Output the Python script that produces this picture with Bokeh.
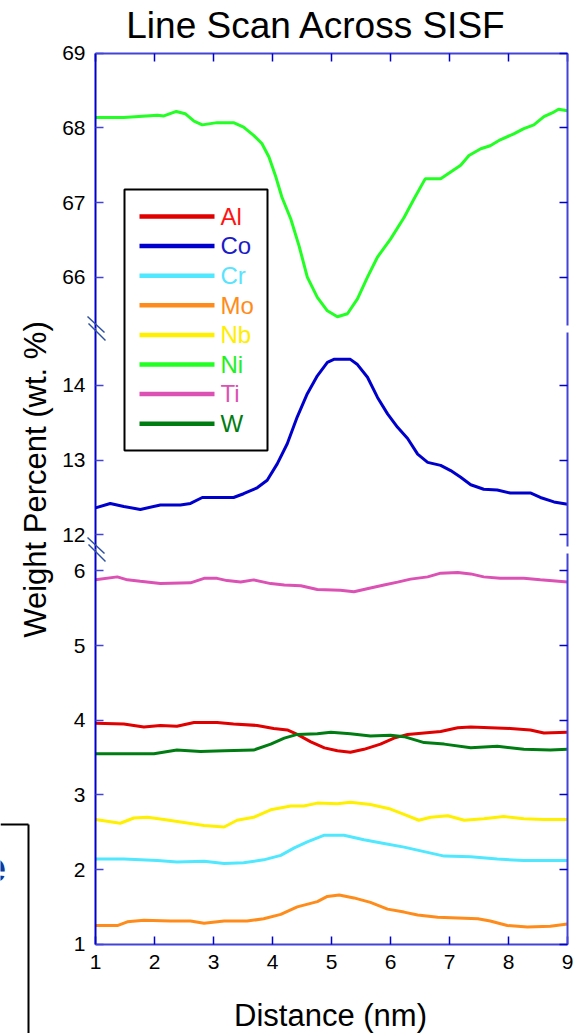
import math
from bokeh.plotting import figure
from bokeh.models import (Range1d, LinearAxis, FixedTicker, Label, BoxAnnotation, Arrow)
from bokeh.embed import file_html
from bokeh.resources import INLINE

# ---------------- data ----------------
ni_x = [1.00, 1.48, 2.05, 2.16, 2.37, 2.52, 2.67, 2.81, 3.06, 3.34, 3.51, 3.68, 3.82, 3.94, 4.05,
        4.16, 4.31, 4.45, 4.59, 4.76, 4.93, 5.10, 5.27, 5.44, 5.61, 5.78, 6.00, 6.23, 6.40, 6.59,
        6.85, 7.02, 7.19, 7.33, 7.53, 7.69, 7.86, 8.09, 8.26, 8.43, 8.60, 8.74, 8.85, 9.00]
ni_y = [68.14, 68.14, 68.17, 68.16, 68.22, 68.19, 68.09, 68.04, 68.07, 68.07, 68.01, 67.90, 67.79,
        67.61, 67.36, 67.07, 66.78, 66.42, 66.00, 65.73, 65.55, 65.47, 65.51, 65.71, 66.00, 66.27,
        66.51, 66.80, 67.05, 67.32, 67.32, 67.41, 67.50, 67.63, 67.72, 67.76, 67.84, 67.92, 67.99,
        68.04, 68.15, 68.20, 68.25, 68.23]

co_x = [1.00, 1.25, 1.48, 1.76, 2.10, 2.44, 2.61, 2.81, 3.06, 3.34, 3.51, 3.74, 3.91, 4.08, 4.25,
        4.42, 4.59, 4.76, 4.93, 5.04, 5.32, 5.44, 5.61, 5.78, 5.95, 6.12, 6.29, 6.46, 6.63, 6.85,
        7.02, 7.19, 7.36, 7.58, 7.81, 8.03, 8.37, 8.54, 8.77, 9.00]
co_y = [12.36, 12.42, 12.38, 12.34, 12.40, 12.40, 12.42, 12.50, 12.50, 12.50, 12.55, 12.63, 12.73,
        12.95, 13.22, 13.58, 13.89, 14.13, 14.31, 14.35, 14.35, 14.28, 14.11, 13.84, 13.62, 13.44,
        13.29, 13.08, 12.97, 12.93, 12.86, 12.77, 12.67, 12.61, 12.60, 12.56, 12.56, 12.50, 12.44,
        12.41]

ti_x = [1.00, 1.37, 1.54, 1.76, 2.10, 2.61, 2.84, 3.06, 3.23, 3.46, 3.68, 3.97, 4.20, 4.48, 4.76,
        5.15, 5.38, 5.66, 5.89, 6.12, 6.34, 6.63, 6.85, 7.14, 7.36, 7.58, 7.86, 8.26, 8.54, 9.00]
ti_y = [5.88, 5.92, 5.88, 5.86, 5.83, 5.84, 5.90, 5.90, 5.87, 5.85, 5.88, 5.83, 5.81, 5.80, 5.75,
        5.74, 5.72, 5.77, 5.81, 5.85, 5.89, 5.92, 5.97, 5.98, 5.96, 5.92, 5.90, 5.90, 5.88, 5.85]

al_x = [1.00, 1.48, 1.82, 2.10, 2.38, 2.67, 3.06, 3.34, 3.74, 4.02, 4.25, 4.42, 4.65, 4.88, 5.10,
        5.32, 5.55, 5.83, 6.06, 6.29, 6.57, 6.85, 7.14, 7.36, 7.69, 8.03, 8.37, 8.60, 9.00]
al_y = [3.96, 3.95, 3.91, 3.93, 3.92, 3.97, 3.97, 3.95, 3.93, 3.89, 3.87, 3.81, 3.71, 3.63, 3.59,
        3.57, 3.61, 3.68, 3.76, 3.81, 3.83, 3.85, 3.90, 3.91, 3.90, 3.89, 3.87, 3.83, 3.84]

w_x = [1.00, 1.48, 1.99, 2.38, 2.78, 3.18, 3.68, 3.97, 4.20, 4.42, 4.76, 4.99, 5.32, 5.66, 6.00,
       6.23, 6.57, 6.91, 7.36, 7.81, 8.26, 8.71, 9.00]
w_y = [3.55, 3.55, 3.55, 3.60, 3.58, 3.59, 3.60, 3.68, 3.76, 3.81, 3.82, 3.84, 3.82, 3.79, 3.80,
       3.78, 3.70, 3.68, 3.63, 3.65, 3.61, 3.60, 3.61]

nb_x = [1.00, 1.42, 1.65, 1.88, 2.16, 2.50, 2.84, 3.18, 3.40, 3.68, 3.97, 4.31, 4.53, 4.76, 5.10,
        5.32, 5.66, 6.00, 6.23, 6.48, 6.68, 6.97, 7.25, 7.58, 7.92, 8.26, 8.60, 9.00]
nb_y = [2.67, 2.62, 2.69, 2.70, 2.67, 2.63, 2.59, 2.57, 2.66, 2.70, 2.80, 2.85, 2.85, 2.89, 2.88,
        2.90, 2.87, 2.81, 2.74, 2.66, 2.70, 2.72, 2.66, 2.68, 2.71, 2.68, 2.67, 2.67]

cr_x = [1.00, 1.48, 2.05, 2.38, 2.84, 3.18, 3.51, 3.85, 4.14, 4.37, 4.59, 4.88, 5.21, 5.55, 5.89,
        6.23, 6.57, 6.91, 7.36, 7.81, 8.26, 9.00]
cr_y = [2.14, 2.14, 2.12, 2.10, 2.11, 2.08, 2.09, 2.13, 2.19, 2.29, 2.37, 2.46, 2.46, 2.40, 2.35,
        2.30, 2.24, 2.18, 2.17, 2.14, 2.12, 2.12]

mo_x = [1.00, 1.37, 1.54, 1.82, 2.27, 2.61, 2.84, 3.18, 3.57, 3.85, 4.14, 4.42, 4.76, 4.93, 5.13,
        5.38, 5.66, 5.95, 6.23, 6.46, 6.80, 7.14, 7.48, 7.69, 7.98, 8.32, 8.71, 9.00]
mo_y = [1.25, 1.25, 1.30, 1.32, 1.31, 1.31, 1.28, 1.31, 1.31, 1.34, 1.40, 1.50, 1.57, 1.64, 1.66,
        1.62, 1.56, 1.47, 1.43, 1.39, 1.36, 1.35, 1.34, 1.31, 1.25, 1.23, 1.24, 1.27]

legend_names = ["Al", "Co", "Cr", "Mo", "Nb", "Ni", "Ti", "W"]
x_ticks = [1, 2, 3, 4, 5, 6, 7, 8, 9]
y_ticks_bottom = [1, 2, 3, 4, 5, 6]
y_ticks_middle = [12, 13, 14]
y_ticks_top = [66, 67, 68, 69]

title_text = "Line Scan Across SISF"
x_label = "Distance (nm)"
y_label = "Weight Percent (wt. %)"
stray_text = "e"

# ---------------- styles / layout ----------------
line_colors = {"Al": "#e00000", "Co": "#0000cc", "Cr": "#4fe8ff", "Mo": "#ff8c1a",
               "Nb": "#fff000", "Ni": "#22ff22", "Ti": "#dc52b4", "W": "#007d12"}
text_colors = {"Al": "#ff1414", "Co": "#1c1cc8", "Cr": "#58e4ff", "Mo": "#ff8c1a",
               "Nb": "#ffee00", "Ni": "#22f022", "Ti": "#dc52b4", "W": "#007d12"}
FONT = "Liberation Sans"
AX_DARK = "#0000cc"
AX_LIGHT = "#4343d8"
BASE_SHIFT = 0.365   # measured offset of the rendered baseline, in em

W, H = 584, 1033
F_LEFT, F_RIGHT = 95.0, 567.0        # x = 1 and x = 9 (pixels)
F_TOP, F_BOTTOM = 52.7, 943.7        # y = 69 (top part) and y = 1 (bottom part)
PXX = (F_RIGHT - F_LEFT) / 8.0       # pixels per nm
PXU = 74.66                          # pixels per wt.%


def px2x(px):
    return 1 + (px - F_LEFT) / PXX


def py2y(py):
    return 1 + (F_BOTTOM - py) / PXU


MID_OFF = 12 - py2y(534.3)     # middle segment: value = display + MID_OFF
TOP_OFF = 69 - py2y(F_TOP)     # top segment: value = display + TOP_OFF

p = figure(width=W, height=H,
           x_range=Range1d(px2x(0), px2x(W)), y_range=Range1d(py2y(H), py2y(0)),
           x_axis_location=None, y_axis_location=None,
           output_backend="svg", toolbar_location=None,
           min_border=0, min_border_left=0, min_border_right=0, min_border_top=0,
           min_border_bottom=0, outline_line_color=None,
           background_fill_color="white", border_fill_color="white")
p.extra_y_ranges = {"mid": Range1d(py2y(H) + MID_OFF, py2y(0) + MID_OFF),
                    "top": Range1d(py2y(H) + TOP_OFF, py2y(0) + TOP_OFF)}
p.grid.visible = False


def style_axis(ax, line_color, tick_color, labels=True):
    ax.major_tick_in = 8
    ax.major_tick_out = 0
    ax.minor_tick_line_color = None
    ax.axis_line_color = line_color
    ax.axis_line_width = 2
    ax.major_tick_line_color = tick_color
    ax.major_tick_line_width = 1.5
    if labels:
        ax.major_label_text_font = FONT
        ax.major_label_text_font_size = "21px"
        ax.major_label_text_color = "black"
    else:
        ax.major_label_text_color = None
    return ax


# bottom and top axes
xb = LinearAxis(ticker=FixedTicker(ticks=x_ticks), fixed_location=1.0, bounds=(1, 9),
                major_label_standoff=11)
p.add_layout(style_axis(xb, AX_LIGHT, AX_DARK), "below")
xt = LinearAxis(ticker=FixedTicker(ticks=x_ticks), fixed_location=py2y(F_TOP), bounds=(1, 9))
p.add_layout(style_axis(xt, AX_LIGHT, AX_DARK, labels=False), "above")

# left axis, one piece per segment of the broken scale (contiguous line)
BRK1, BRK2 = 328.0, 549.0      # pixel rows of the two breaks
left_specs = [("top", y_ticks_top, (py2y(BRK1) + TOP_OFF, 69)),
              ("mid", y_ticks_middle, (py2y(BRK2) + MID_OFF, py2y(BRK1) + MID_OFF)),
              ("default", y_ticks_bottom, (1, py2y(BRK2)))]
for rng, ticks, bnds in left_specs:
    ax = LinearAxis(y_range_name=rng, ticker=FixedTicker(ticks=ticks), fixed_location=1.0,
                    bounds=bnds, major_label_standoff=10)
    p.add_layout(style_axis(ax, AX_DARK, AX_LIGHT), "left")

# right axis, with gaps at the breaks
right_specs = [("top", y_ticks_top, (py2y(BRK1 - 3) + TOP_OFF, 69)),
               ("mid", y_ticks_middle, (py2y(BRK2 - 3) + MID_OFF, py2y(BRK1 + 4) + MID_OFF)),
               ("default", y_ticks_bottom, (1, py2y(BRK2 + 4)))]
for rng, ticks, bnds in right_specs:
    ax = LinearAxis(y_range_name=rng, ticker=FixedTicker(ticks=ticks), fixed_location=9.0,
                    bounds=bnds)
    p.add_layout(style_axis(ax, AX_LIGHT, AX_DARK, labels=False), "right")

# data lines
series = [("Ni", ni_x, ni_y, "top"), ("Co", co_x, co_y, "mid"), ("Ti", ti_x, ti_y, "default"),
          ("Al", al_x, al_y, "default"), ("W", w_x, w_y, "default"),
          ("Nb", nb_x, nb_y, "default"), ("Cr", cr_x, cr_y, "default"),
          ("Mo", mo_x, mo_y, "default")]
for name, xs, ys, rng in series:
    p.line(xs, ys, y_range_name=rng, line_color=line_colors[name], line_width=3)


def seg(x0, y0, x1, y1, color, width):
    p.add_layout(Arrow(end=None, start=None, x_start=px2x(x0), y_start=py2y(y0),
                       x_end=px2x(x1), y_end=py2y(y1), line_color=color, line_width=width))


def text(px, py_base, s, size, color, align="left", bold=False, vertical=False):
    """Place a text by the pixel position of its baseline."""
    shift = BASE_SHIFT * size
    if vertical:
        x, y, ang = px2x(px - shift), py2y(py_base), math.pi / 2
    else:
        x, y, ang = px2x(px), py2y(py_base - shift), 0.0
    p.add_layout(Label(x=x, y=y, text=s, text_font=FONT, text_font_size=f"{size}px",
                       text_font_style="bold" if bold else "normal", text_color=color,
                       text_align=align, text_baseline="alphabetic", angle=ang))


# break marks on the left axis
BRK_COL = "#2c4fa0"
for c in (BRK1, BRK2):
    seg(87, c - 12, 104, c + 4, BRK_COL, 1.5)
    seg(88, c - 5, 105, c + 12, BRK_COL, 1.5)

# stray box edge and letter from the slide, lower-left corner
seg(0, 824, 28, 824, "black", 2)
seg(28, 824, 28, H, "black", 2)
text(5.5, 882, stray_text, 42, "#0d3a9c", align="right", bold=True)

# legend
p.add_layout(BoxAnnotation(left=px2x(124), right=px2x(267), top=py2y(189), bottom=py2y(450),
                           fill_color=None, fill_alpha=0, line_color="black", line_alpha=1,
                           line_width=2))
for i, name in enumerate(legend_names):
    row = 216 + i * 29.6
    p.segment(x0=[px2x(139)], y0=[py2y(row)], x1=[px2x(214)], y1=[py2y(row)],
              line_color=line_colors[name], line_width=4.5)
    text(220, row + 8.6, name, 24, text_colors[name])

# title and axis titles
text(316, 39, title_text, 37, "black", align="center")
text(330, 1026, x_label, 31, "black", align="center")
text(46, 479, y_label, 31, "black", align="center", vertical=True)

open("out.html", "w").write(file_html(p, INLINE))
